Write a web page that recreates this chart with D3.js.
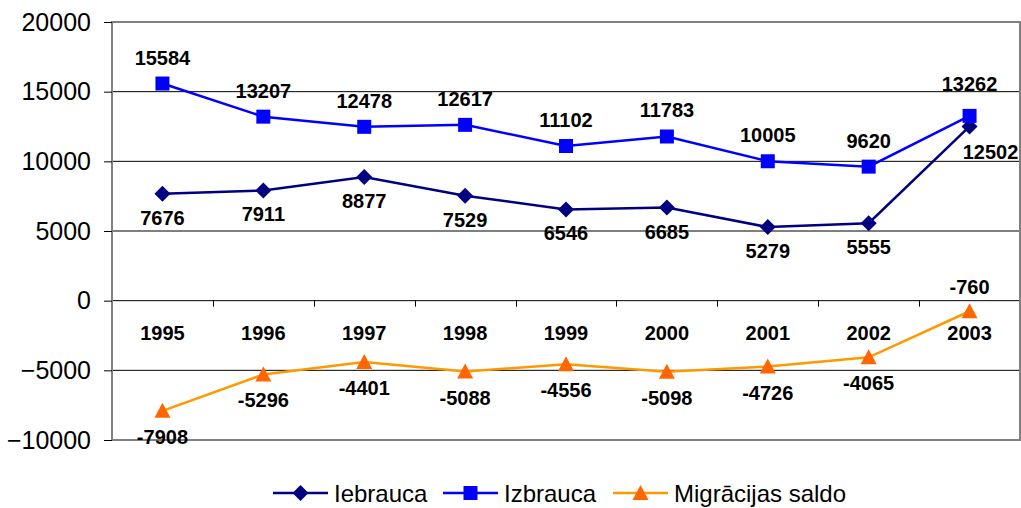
<!DOCTYPE html>
<html><head><meta charset="utf-8">
<script src="https://cdn.jsdelivr.net/npm/d3@7"></script>
<style>body{margin:0;background:#fff;}svg{display:block;font-family:"Liberation Sans",Arial,sans-serif;}</style>
</head><body>
<svg id="c" width="1021" height="508"></svg>
<script>
const years = ["1995","1996","1997","1998","1999","2000","2001","2002","2003"];
const iebrauca = [7676,7911,8877,7529,6546,6685,5279,5555,12502];
const izbrauca = [15584,13207,12478,12617,11102,11783,10005,9620,13262];
const saldo = [-7908,-5296,-4401,-5088,-4556,-5098,-4726,-4065,-760];
const yTicks = [-10000,-5000,0,5000,10000,15000,20000];
const seriesNames = ["Iebrauca","Izbrauca","Migrācijas saldo"];

const svg = d3.select("#c");
const L = 112, R = 1020, T = 22, B = 440;
const x = d3.scaleBand().domain(years).range([L, R]).padding(0);
const cx = d => x(d) + x.bandwidth()/2;
const y = d3.scaleLinear().domain([-10000, 20000]).range([B, T]);

// gridlines
svg.append("g").selectAll("line").data(yTicks.filter(t => t > -10000 && t < 20000)).join("line")
  .attr("x1", L).attr("x2", R).attr("y1", d => y(d)).attr("y2", d => y(d))
  .attr("stroke", "#000").attr("stroke-width", 1);

// frame
svg.append("rect").attr("x", L).attr("y", T).attr("width", R - L).attr("height", B - T)
  .attr("fill", "none").attr("stroke", "#808080").attr("stroke-width", 2);

// y axis
const yAxis = d3.axisLeft(y).tickValues(yTicks).tickSize(8).tickPadding(13).tickFormat(d3.format("d"));
const ga = svg.append("g").attr("transform", `translate(${L},0)`).call(yAxis);
ga.select(".domain").remove();
ga.selectAll(".tick line").attr("stroke", "#000");
ga.selectAll(".tick text").attr("font-size", 25).attr("fill", "#000").attr("font-family", "Liberation Sans, Arial, sans-serif");

// x ticks on zero line
svg.append("g").selectAll("line").data(years.slice(1)).join("line")
  .attr("x1", d => Math.round(x(d)) + 0.5).attr("x2", d => Math.round(x(d)) + 0.5)
  .attr("y1", y(0)).attr("y2", y(0) + 6).attr("stroke", "#000");

// year labels
svg.append("g").selectAll("text").data(years).join("text")
  .attr("x", d => cx(d)).attr("y", y(0) + 39).attr("text-anchor", "middle")
  .attr("font-size", 20).attr("font-weight", "bold").text(d => d);

const line = d3.line().x((d, i) => cx(years[i])).y(d => y(d));
const series = [
  {vals: iebrauca, color: "#000080", mcolor: "#000080", shape: "diamond"},
  {vals: izbrauca, color: "#0000FF", mcolor: "#0000FF", shape: "square"},
  {vals: saldo, color: "#FF9900", mcolor: "#FF6600", shape: "triangle"}
];
function shapePath(s) {
  if (s === "diamond") return "M0,-8L8,0L0,8L-8,0Z";
  if (s === "square") return "M-7,-7H7V7H-7Z";
  return "M0,-8L8,7H-8Z";
}
series.forEach(s => {
  svg.append("path").datum(s.vals).attr("d", line).attr("fill", "none")
    .attr("stroke", s.color).attr("stroke-width", 2.5);
});
series.forEach(s => {
  svg.append("g").selectAll("path").data(s.vals).join("path")
    .attr("transform", (d, i) => `translate(${cx(years[i])},${y(d)})`)
    .attr("d", shapePath(s.shape)).attr("fill", s.mcolor);
});

// data labels (layout offsets)
function labels(vals, dx, dy) {
  svg.append("g").selectAll("text").data(vals).join("text")
    .attr("x", (d, i) => cx(years[i]) + dx(i)).attr("y", (d, i) => y(d) + dy(i))
    .attr("dy", "0.35em").attr("text-anchor", "middle")
    .attr("font-size", 20).attr("font-weight", "bold").attr("fill", "#000").text(d => d);
}
const last = years.length - 1;
labels(izbrauca, i => 0, i => i === last ? -32 : -26);
labels(iebrauca, i => i === last ? 21 : 0, i => i === last ? 26 : 24);
labels(saldo, i => 0, i => i === last ? -24 : 26);

// legend
const leg = [
  {name: seriesNames[0], color: "#000080", mcolor: "#000080", shape: "diamond", x0: 273},
  {name: seriesNames[1], color: "#0000FF", mcolor: "#0000FF", shape: "square", x0: 443},
  {name: seriesNames[2], color: "#FF9900", mcolor: "#FF6600", shape: "triangle", x0: 613}
];
const lg = svg.append("g");
leg.forEach(l => {
  const ly = 493;
  lg.append("line").attr("x1", l.x0).attr("x2", l.x0 + 55).attr("y1", ly).attr("y2", ly)
    .attr("stroke", l.color).attr("stroke-width", 2.5);
  lg.append("path").attr("transform", `translate(${l.x0 + 27.5},${ly})`).attr("d", shapePath(l.shape)).attr("fill", l.mcolor);
  lg.append("text").attr("x", l.x0 + 61).attr("y", 502).attr("font-size", 24).attr("fill", "#000").text(l.name);
});
</script>
</body></html>
